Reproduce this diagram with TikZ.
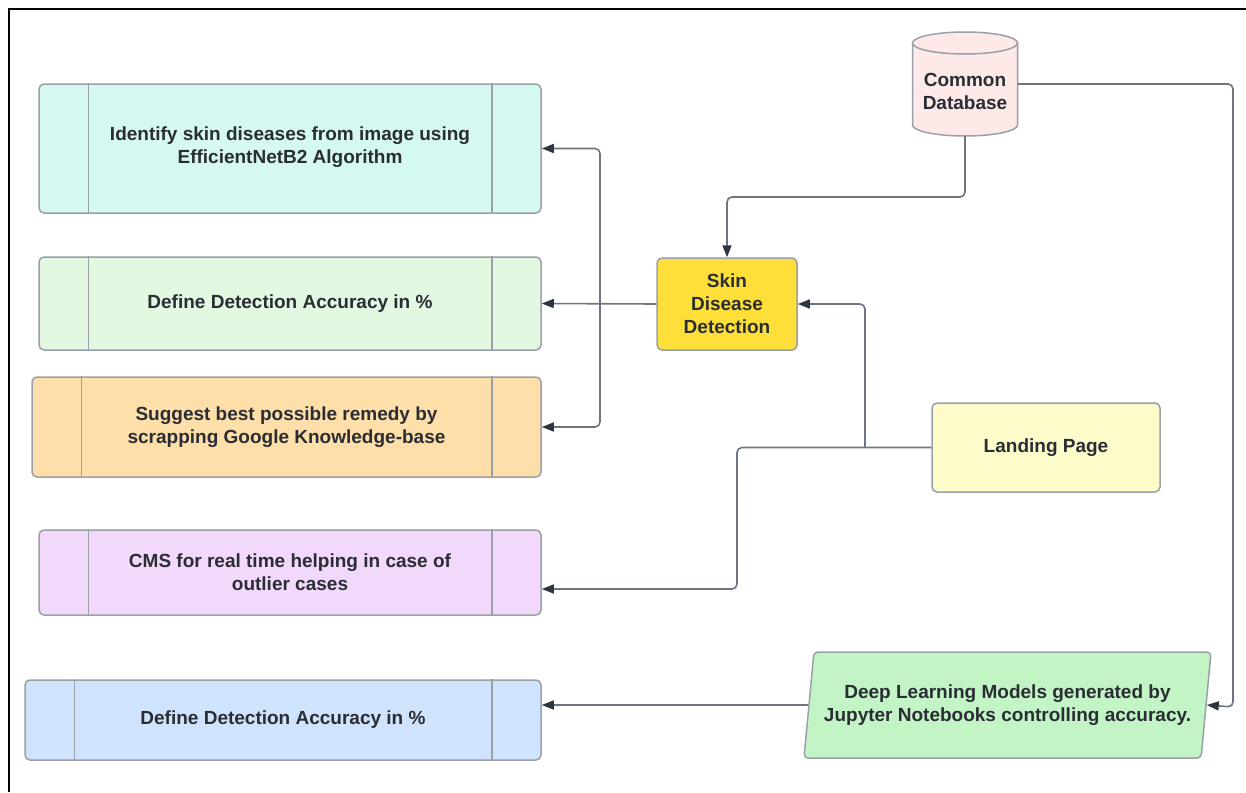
\documentclass[tikz,border=0pt]{standalone}
\usepackage{fontspec}
\setmainfont{Liberation Sans}
\usetikzlibrary{arrows.meta,shapes.geometric,calc}
\definecolor{cB1}{HTML}{D5F8F3}
\definecolor{cB2}{HTML}{E2F8E1}
\definecolor{cB3}{HTML}{FEDFA9}
\definecolor{cB4}{HTML}{F2D9FB}
\definecolor{cB5}{HTML}{CFE4FC}
\definecolor{cSkin}{HTML}{FEDF3A}
\definecolor{cLand}{HTML}{FCFBC9}
\definecolor{cPar}{HTML}{C3F4C6}
\definecolor{cDb}{HTML}{FDE9E8}
\definecolor{cBorder}{HTML}{9AA0A8}
\definecolor{cConn}{HTML}{6E7580}
\definecolor{cTip}{HTML}{2D3540}
\definecolor{cText}{HTML}{2A2D33}
\tikzset{
  txt/.style={font=\fontsize{19}{23}\selectfont\bfseries, text=cText, align=center},
  procbox/.style={txt, draw=cBorder, line width=1.5pt, rounded corners=5pt, inner sep=0pt},
  conn/.style={draw=cConn, line width=1.6pt, rounded corners=5pt},
  arr/.style={conn, -{Triangle[length=12pt,width=9pt,color=cTip]}},
}
\newcommand{\innerlines}[1]{%
  \draw[cBorder, line width=1.5pt] ([xshift=50pt]#1.north west) -- ([xshift=50pt]#1.south west);
  \draw[cBorder, line width=1.5pt] ([xshift=-50pt]#1.north east) -- ([xshift=-50pt]#1.south east);}
\begin{document}
\begin{tikzpicture}[x=1pt,y=-1pt]
\useasboundingbox (0,0) rectangle (1246,792);
\draw[black, line width=2.2pt] (9,792) -- (9,9) -- (1246,9);

% left process boxes
\node[procbox, fill=cB1, minimum width=502pt, minimum height=129pt] (b1) at (290,148.5) {};
\node[txt] at (290,147) {Identify skin diseases from image using\\EfficientNetB2 Algorithm};
\innerlines{b1}
\node[procbox, fill=cB2, minimum width=502pt, minimum height=93pt] (b2) at (290,303.5) {Define Detection Accuracy in \%};
\innerlines{b2}
\node[procbox, fill=cB3, minimum width=509pt, minimum height=100pt] (b3) at (286.5,427) {Suggest best possible remedy by\\scrapping Google Knowledge-base};
\innerlines{b3}
\node[procbox, fill=cB4, minimum width=502pt, minimum height=85pt] (b4) at (290,572.5) {CMS for real time helping in case of\\outlier cases};
\innerlines{b4}
\node[procbox, fill=cB5, minimum width=516pt, minimum height=80pt] (b5) at (283,720) {Define Detection Accuracy in \%};
\innerlines{b5}

% skin disease detection
\node[procbox, fill=cSkin, draw=cBorder, minimum width=140pt, minimum height=92pt] (skin) at (727,304) {Skin\\Disease\\Detection};

% landing page
\node[procbox, fill=cLand, minimum width=228pt, minimum height=89pt] (land) at (1046,447.5) {Landing Page};

% parallelogram
\node[txt, trapezium, trapezium stretches=true, trapezium left angle=77, trapezium right angle=103,
  draw=cBorder, line width=1.5pt, rounded corners=4pt, fill=cPar, minimum width=409pt, minimum height=106pt, inner sep=0pt]
  (par) at (1007.5,705) {Deep Learning Models generated by\\Jupyter Notebooks controlling accuracy.};

% database cylinder
\node[minimum width=105pt, minimum height=104pt, inner sep=0pt] (db) at (965,84) {};
\filldraw[fill=cDb, draw=cBorder, line width=1.5pt] (912.5,43) -- (912.5,125)
  arc[start angle=180, end angle=360, x radius=52.5pt, y radius=11pt] -- (1017.5,43) -- cycle;
\filldraw[fill=cDb, draw=cBorder, line width=1.5pt] (965,43) ellipse [x radius=52.5pt, y radius=11pt];
\node[txt] (dbt) at (965,91.5) {Common\\Database};

% connectors
\draw[arr] (db.south) -- (965,197) -| (skin.north);
\draw[arr] (db.east) -| (1233,707) -- (par.east);
\draw[arr] (skin.west) -- (b2.east);
\coordinate (jl) at (600,304);
\draw[arr] (jl) |- (b1.east);
\draw[arr] (jl) |- (b3.east);
\coordinate (jr) at (865,447.5);
\draw[arr] (jr) |- (skin.east);
\draw[arr] (land.west) -- (737,447.5) |- ([yshift=-16.5pt]b4.east);
\draw[arr] (par.west) -- (par.west -| b5.east);
\end{tikzpicture}
\end{document}
